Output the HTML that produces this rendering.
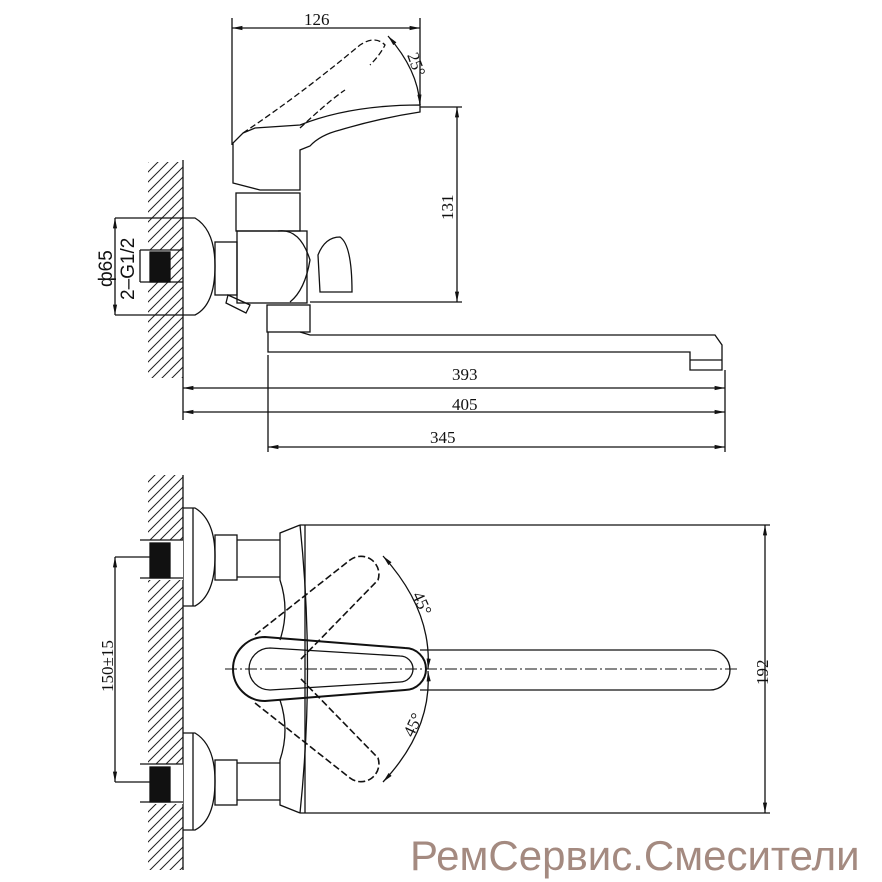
<!DOCTYPE html>
<html><head><meta charset="utf-8"><style>
html,body{margin:0;padding:0;background:#fff;}
svg{display:block}
text{font-family:"Liberation Serif",serif;fill:#111}
</style></head><body>
<svg width="882" height="882" viewBox="0 0 882 882" xmlns="http://www.w3.org/2000/svg">
<defs>
<pattern id="h" width="10" height="10" patternUnits="userSpaceOnUse">
<path d="M0,10 L10,0 M-2,2 L2,-2 M8,12 L12,8" stroke="#222" stroke-width="1"/>
</pattern>
<marker id="a" viewBox="0 0 10 10" refX="10" refY="5" markerWidth="8" markerHeight="8" orient="auto-start-reverse"><path d="M0,3 L10,5 L0,7z" fill="#111"/></marker>
</defs>
<g fill="none" stroke="#111" stroke-width="1.3">
<!-- TOP VIEW -->
<rect x="148" y="162" width="35" height="216" fill="url(#h)" stroke="none"/>
<line x1="183" y1="160" x2="183" y2="380"/>
<rect x="148" y="250" width="22" height="32" fill="#fff" stroke="none"/>
<rect x="150" y="252" width="20" height="30" fill="#111"/>
<line x1="140" y1="250" x2="183" y2="250"/><line x1="140" y1="282" x2="183" y2="282"/>
<path d="M183,218 L195,218 Q215,230 215,266 Q215,305 195,315 L183,315"/>
<line x1="115" y1="218" x2="183" y2="218"/><line x1="115" y1="315" x2="183" y2="315"/>
<line x1="115" y1="218" x2="115" y2="315" marker-start="url(#a)" marker-end="url(#a)"/>
<line x1="140" y1="250" x2="140" y2="282"/>
<rect x="215" y="242" width="22" height="53"/>
<rect x="237" y="231" width="70" height="72"/>
<path d="M278,231 Q300,228 310,260 Q305,290 290,302"/>
<rect x="236" y="193" width="64" height="38"/>
<path d="M233,143 L233,183 L260,190 L300,190 L300,150 L310,146 Q320,135 340,130 Q380,118 420,112 L420,105 Q350,105 300,125 L255,128 L243,133 Z"/>
<path d="M243,133 Q300,95 360,45 Q375,35 385,45 Q380,55 370,65 M300,128 Q330,100 345,90" stroke-dasharray="6,3"/>
<path d="M318,255 Q325,237 340,237 Q352,245 352,292 L320,292 Z"/>
<path d="M228,295 L250,305 L246,313 L226,303 Z"/>
<rect x="267" y="305" width="43" height="27"/>
<path d="M268,332 L268,352 L690,352 L690,370 L722,370 L722,345 L715,335 L310,335 L300,332"/>
<line x1="690" y1="360" x2="722" y2="360"/>
<line x1="232" y1="18" x2="232" y2="145"/><line x1="420" y1="18" x2="420" y2="105"/>
<line x1="232" y1="28" x2="420" y2="28" marker-start="url(#a)" marker-end="url(#a)"/>
<path d="M388,36 Q418,70 420,105" marker-start="url(#a)" marker-end="url(#a)"/>
<line x1="420" y1="107" x2="462" y2="107"/><line x1="310" y1="302" x2="462" y2="302"/>
<line x1="457" y1="107" x2="457" y2="302" marker-start="url(#a)" marker-end="url(#a)"/>
<line x1="183" y1="380" x2="183" y2="420"/><line x1="268" y1="355" x2="268" y2="452"/><line x1="725" y1="370" x2="725" y2="452"/>
<line x1="183" y1="388" x2="725" y2="388" marker-start="url(#a)" marker-end="url(#a)"/>
<line x1="183" y1="412" x2="725" y2="412" marker-start="url(#a)" marker-end="url(#a)"/>
<line x1="268" y1="447" x2="725" y2="447" marker-start="url(#a)" marker-end="url(#a)"/>
<!-- BOTTOM VIEW -->
<rect x="148" y="475" width="35" height="395" fill="url(#h)" stroke="none"/>
<line x1="183" y1="475" x2="183" y2="870"/>
<rect x="148" y="540" width="35" height="40" fill="#fff" stroke="none"/>
<rect x="148" y="764" width="35" height="40" fill="#fff" stroke="none"/>
<rect x="150" y="543" width="20" height="35" fill="#111"/>
<rect x="150" y="767" width="20" height="35" fill="#111"/>
<line x1="140" y1="540" x2="183" y2="540"/><line x1="140" y1="578" x2="183" y2="578"/>
<line x1="140" y1="764" x2="183" y2="764"/><line x1="140" y1="802" x2="183" y2="802"/>
<path d="M183,508 L195,508 Q215,520 215,556 Q215,595 195,606 L183,606"/>
<path d="M183,733 L195,733 Q215,745 215,781 Q215,820 195,830 L183,830"/>
<line x1="193" y1="508" x2="193" y2="606"/><line x1="193" y1="733" x2="193" y2="830"/>
<rect x="215" y="535" width="22" height="45"/><rect x="215" y="760" width="22" height="45"/>
<line x1="237" y1="540" x2="280" y2="540"/><line x1="237" y1="577" x2="280" y2="577"/>
<line x1="237" y1="763" x2="280" y2="763"/><line x1="237" y1="800" x2="280" y2="800"/>
<path d="M300,525 L280,533 L280,580 Q290,610 280,640"/>
<path d="M280,700 Q290,730 280,760 L280,805 L300,813"/>
<path d="M300,525 Q315,669 300,813"/><line x1="305" y1="525" x2="305" y2="813"/>
<line x1="300" y1="525" x2="770" y2="525"/><line x1="300" y1="813" x2="770" y2="813"/>
<line x1="765" y1="525" x2="765" y2="813" marker-start="url(#a)" marker-end="url(#a)"/>
<line x1="115" y1="557" x2="150" y2="557"/><line x1="115" y1="782" x2="150" y2="782"/>
<line x1="115" y1="557" x2="115" y2="782" marker-start="url(#a)" marker-end="url(#a)"/>
<path d="M420,650 L710,650 A19,19 0 0 1 710,690 L420,690"/>
<line x1="225" y1="669" x2="740" y2="669" stroke-dasharray="12,3,2,3" stroke-width="1"/>
<path d="M265,637 L405,648 A20,20 0 0 1 405,690 L265,701 A32,32 0 0 1 265,637 Z" stroke-width="2"/>
<path d="M270,648 L400,656 A12,12 0 0 1 400,682 L270,690 A21,21 0 0 1 270,648 Z"/>
<path d="M255,635 L350,560 A18,18 0 0 1 378,580 L300,660" stroke-dasharray="7,3" stroke-width="1.6"/>
<path d="M255,703 L350,778 A18,18 0 0 0 378,758 L300,678" stroke-dasharray="7,3" stroke-width="1.6"/>
<path d="M383,556 Q432,610 428,669" marker-start="url(#a)" marker-end="url(#a)"/>
<path d="M428,671 Q432,730 383,782" marker-start="url(#a)" marker-end="url(#a)"/>
</g>
<g font-size="17">
<text x="304" y="25">126</text>
<text x="452" y="380">393</text>
<text x="452" y="410">405</text>
<text x="430" y="443">345</text>
<text transform="translate(453,220) rotate(-90)">131</text>
<text transform="translate(768,685) rotate(-90)">192</text>
<text transform="translate(113,692) rotate(-90)">150±15</text>
<text transform="translate(407,55) rotate(70)">25°</text>
<text transform="translate(412,595) rotate(65)">45°</text>
<text transform="translate(413,738) rotate(-65)">45°</text>
</g>
<text transform="translate(112,287) rotate(-90)" style="font-family:'Liberation Sans',sans-serif;font-size:19px">ф65</text>
<text transform="translate(134,300) rotate(-90)" style="font-family:'Liberation Sans',sans-serif;font-size:19px">2–G1/2</text>
<text x="410" y="870" style="font-family:'Liberation Sans',sans-serif;font-size:42px;fill:#a48a80">РемСервис.Смесители</text>
</svg>
</body></html>
